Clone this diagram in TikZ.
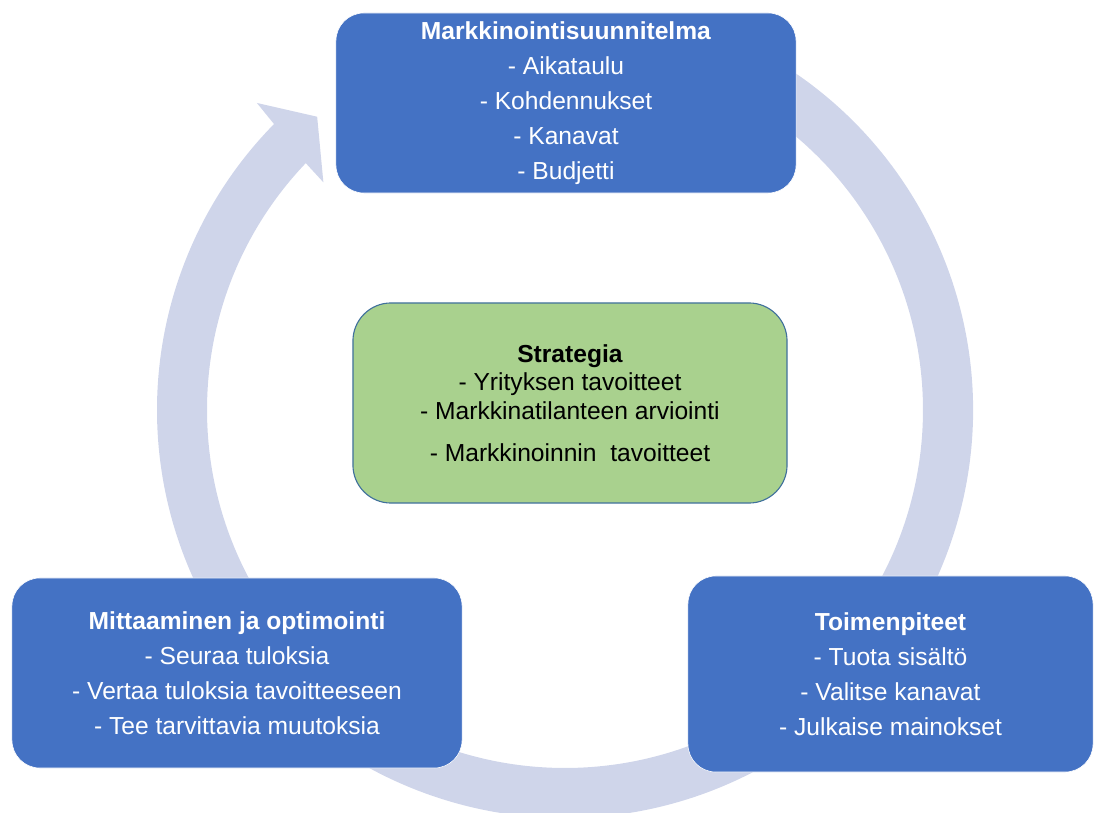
\documentclass[tikz,border=0pt]{standalone}
\usepackage{fontspec}
\setmainfont{Liberation Sans}
\usetikzlibrary{shapes,positioning}
\definecolor{officeblue}{HTML}{4472C4}
\definecolor{ringblue}{HTML}{CFD5EA}
\definecolor{leafgreen}{HTML}{A9D18E}
\definecolor{slateline}{HTML}{41719C}
\tikzstyle{phase} = [rectangle, rounded corners=0.7cm, fill=officeblue, draw=white, thin, text=white, align=center, inner sep=0pt, font=\fontsize{17.5}{24.9}\selectfont]
\tikzstyle{core} = [rectangle, rounded corners=0.95cm, fill=leafgreen, draw=slateline, line width=0.8pt, text=black, align=center, inner sep=0pt, font=\fontsize{17.5}{20.6}\selectfont]

\begin{document}
\begin{tikzpicture}[x=0.025cm,y=0.025cm]
\useasboundingbox (0,0) rectangle (1094,812);
%\fill[white] (0,0) rectangle (1094,812);
% the cycle arrow, clockwise, tail hidden under the top box
\begin{scope}[shift={(565,402)}]
\fill[ringblue] (70:408) arc[start angle=70, end angle=-224.5, radius=408]
  -- (-224.9:435) -- (-229.8:384) -- (-223.3:332) -- (-223.6:358)
  arc[start angle=-223.6, end angle=70, radius=358] -- cycle;
\end{scope}
% phases
\node (plan) at (566,709) [phase, minimum width=11.5cm, minimum height=4.5cm]
  {\textbf{Markkinointisuunnitelma}\\- Aikataulu\\- Kohdennukset\\- Kanavat\\- Budjetti};
\node (act) at (890.5,138) [phase, minimum width=10.125cm, minimum height=4.9cm]
  {\textbf{Toimenpiteet}\\- Tuota sisältö\\- Valitse kanavat\\- Julkaise mainokset};
\node (measure) at (237,139) [phase, minimum width=11.25cm, minimum height=4.75cm]
  {\textbf{Mittaaminen ja optimointi}\\- Seuraa tuloksia\\- Vertaa tuloksia tavoitteeseen\\- Tee tarvittavia muutoksia};
% strategy in the middle
\node (strategy) at (570,409) [core, minimum width=10.85cm, minimum height=5cm]
  {\textbf{Strategia}\\- Yrityksen tavoitteet\\- Markkinatilanteen arviointi\\[9pt]- Markkinoinnin~ tavoitteet};
\end{tikzpicture}
\end{document}
